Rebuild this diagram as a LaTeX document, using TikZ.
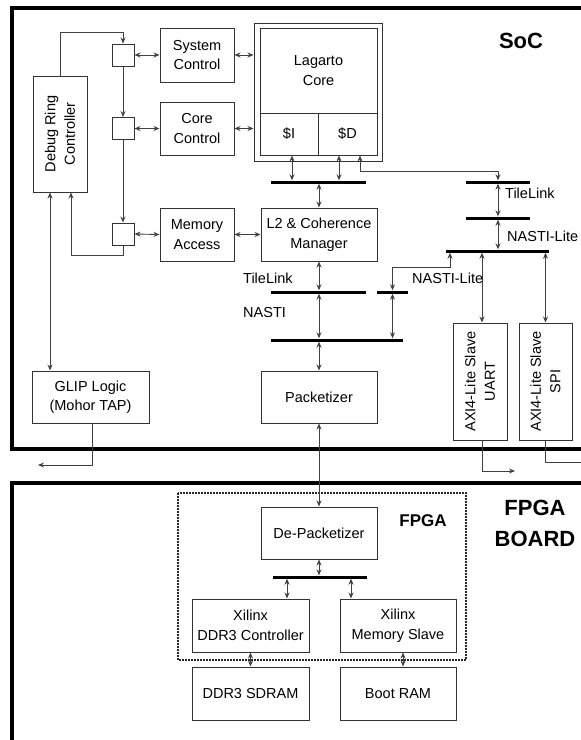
\documentclass[tikz,border=0pt]{standalone}
\usepackage{fontspec}
\setmainfont{Liberation Sans}
\usetikzlibrary{arrows.meta,calc}
\begin{document}
\begin{tikzpicture}[x=1pt,y=-1pt,
  font=\fontsize{14.5}{19.5}\selectfont,
  box/.style={draw=black!80, line width=1pt, inner sep=0pt, align=center, fill=white},
  bus/.style={fill=black, inner sep=0pt, minimum height=3pt},
  conn/.style={draw=black!75, line width=0.9pt},
  ar/.style={conn, -{Stealth[length=6pt,width=5pt]}},
  dar/.style={conn, {Stealth[length=6pt,width=5pt]}-{Stealth[length=6pt,width=5pt]}},
  plain/.style={conn},
  frame/.style={draw=black, line width=3.5pt},
  lbl/.style={inner sep=0pt, anchor=west},
  title/.style={font=\fontsize{22}{31}\selectfont\bfseries, align=center, inner sep=0pt},
  ]
\useasboundingbox (0,0) rectangle (581,740);
\clip (0,0) rectangle (581,740);
\fill[white] (0,0) rectangle (581,740);

% frames
\draw[frame] (12,8) rectangle (640,449);
\draw[frame] (12,483) rectangle (640,800);
\draw[black!85, line width=1.6pt, dash pattern=on 1.6pt off 1.4pt] (178,493) rectangle (466,660);

% SoC nodes
\node[box, minimum width=54, minimum height=116] (dbg) at (60,134) {};
\node[rotate=90, align=center, inner sep=0pt] at (dbg.center) {Debug Ring\\Controller};
\node[box, minimum width=22, minimum height=22] (sq1) at (123,55) {};
\node[box, minimum width=22, minimum height=22] (sq2) at (123,128.5) {};
\node[box, minimum width=22, minimum height=22] (sq3) at (123,234) {};
\node[box, minimum width=74, minimum height=54] (sys) at (197,55) {System\\Control};
\node[box, minimum width=74, minimum height=53] (core) at (197,128.5) {Core\\Control};
\node[box, minimum width=74, minimum height=53] (mem) at (197,234.5) {Memory\\Access};

\node[box, minimum width=128, minimum height=138] (lago) at (318,92) {};
\node[box, minimum width=117, minimum height=85] (lagtop) at (318.5,70.5) {Lagarto\\Core};
\node[box, minimum width=58, minimum height=42] (ci) at (289,134) {\$I};
\node[box, minimum width=59, minimum height=42] (cd) at (347.5,134) {\$D};

\node[box, minimum width=116, minimum height=53] (l2) at (319,234.5) {L2 \& Coherence\\Manager};
\node[box, minimum width=116, minimum height=52] (pack) at (319,397) {Packetizer};
\node[box, minimum width=117, minimum height=52] (glip) at (90.5,397) {GLIP Logic\\(Mohor TAP)};

\node[box, minimum width=54, minimum height=117] (uart) at (480,381.5) {};
\node[rotate=90, align=center, inner sep=0pt] at (uart.center) {AXI4-Lite Slave\\UART};
\node[box, minimum width=53, minimum height=117] (spi) at (545.5,381.5) {};
\node[rotate=90, align=center, inner sep=0pt] at (spi.center) {AXI4-Lite Slave\\SPI};

% buses
\node[bus, minimum width=95] (b1) at (318.5,182) {};
\node[bus, minimum width=64] (bT) at (498,182) {};
\node[bus, minimum width=64] (bN) at (498,218) {};
\node[bus, minimum width=103] (b3) at (497.5,251) {};
\node[bus, minimum width=31] (bS) at (392.5,292) {};
\node[bus, minimum width=95] (b4) at (318.5,292) {};
\node[bus, minimum width=132] (b5) at (337,340) {};

% FPGA nodes
\node[box, minimum width=116, minimum height=52] (depack) at (319,533) {De-Packetizer};
\node[bus, minimum width=94] (b6) at (320,577) {};
\node[box, minimum width=117, minimum height=53] (xddr) at (250.5,625.5) {Xilinx\\DDR3 Controller};
\node[box, minimum width=116, minimum height=53] (xms) at (398,625.5) {Xilinx\\Memory Slave};
\node[box, minimum width=117, minimum height=53] (sdram) at (250.5,693.5) {DDR3 SDRAM};
\node[box, minimum width=116, minimum height=53] (boot) at (398,693.5) {Boot RAM};

% free ends
\coordinate (glipout) at (38,465);
\coordinate (uartout) at (515,471);
\coordinate (spiout) at (600,462);

% connectors: debug ring
\draw[ar] (dbg.north) -- ++(0,-43) -| (sq1.north);
\draw[ar] (sq1.south) -- (sq2.north);
\draw[ar] (sq2.south) -- (sq3.north);
\draw[ar] (sq3.south) -- ++(0,10) -| ([xshift=11pt]dbg.south);
\draw[dar] ([xshift=-10pt]dbg.south) -- ([xshift=-40.5pt]glip.north);
\draw[dar] (sq1.east) -- (sys.west);
\draw[dar] (sq2.east) -- (core.west);
\draw[dar] (sq3.east) -- (mem.west);
\draw[dar] (sys.east) -- (sys.east -| lago.west);
\draw[dar] (core.east) -- (core.east -| lago.west);
\draw[dar] (mem.east) -- (l2.west);

% caches to bus
\draw[dar] ([xshift=3pt]ci.south) -- ([xshift=3pt]ci.south |- b1.north);
\draw[dar] ([xshift=-8.5pt]cd.south) -- ([xshift=-8.5pt]cd.south |- b1.north);
\draw[dar] ([xshift=12.5pt]cd.south) -- ++(0,16) -| (bT.north);
\draw[dar] (l2.north |- b1.south) -- (l2.north);
\draw[dar] (bT.south) -- (bN.north);
\draw[dar] (bN.south) -- (bN.south |- b3.north);
\draw[dar] ([xshift=-47.5pt]b3.south) -- ++(0,15) -| (bS.north);
\draw[dar] (bS.south) -- (bS.south |- b5.north);
\draw[dar] (l2.south) -- (l2.south |- b4.north);
\draw[dar] (l2.south |- b4.south) -- (l2.south |- b5.north);
\draw[dar] (pack.north |- b5.south) -- (pack.north);
\draw[dar] ([xshift=2pt]uart.north |- b3.south) -- ([xshift=2pt]uart.north);
\draw[dar] (spi.north |- b3.south) -- (spi.north);
\draw[dar] (pack.south) -- (depack.north);

% outputs
\draw[ar] ([xshift=1.5pt]glip.south) |- (glipout);
\draw[ar] ([xshift=2pt]uart.south) |- (uartout);
\draw[plain] (spi.south) |- (spiout);

% FPGA connectors
\draw[dar] (depack.south) -- (depack.south |- b6.north);
\draw[dar] ([xshift=-33pt]b6.south) -- ([xshift=-33pt]b6.south |- xddr.north);
\draw[dar] ([xshift=31pt]b6.south) -- ([xshift=31pt]b6.south |- xms.north);
\draw[dar] (xddr.south) -- (sdram.north);
\draw[dar] ([xshift=5pt]xms.south) -- ([xshift=5pt]boot.north);

% labels
\node[lbl] (tl1) at (505,193) {TileLink};
\node[lbl] (nl1) at (507,236) {NASTI-Lite};
\node[lbl] (nl2) at (412,278) {NASTI-Lite};
\node[lbl] (tl2) at (243,278) {TileLink};
\node[lbl] (na) at (243,313) {NASTI};
\node[title] (soc) at (521,41) {SoC};
\node[title] (board) at (535,523) {FPGA\\BOARD};
\node[title, font=\fontsize{17}{20}\selectfont\bfseries] (fpga) at (423,521) {FPGA};
\end{tikzpicture}
\end{document}
